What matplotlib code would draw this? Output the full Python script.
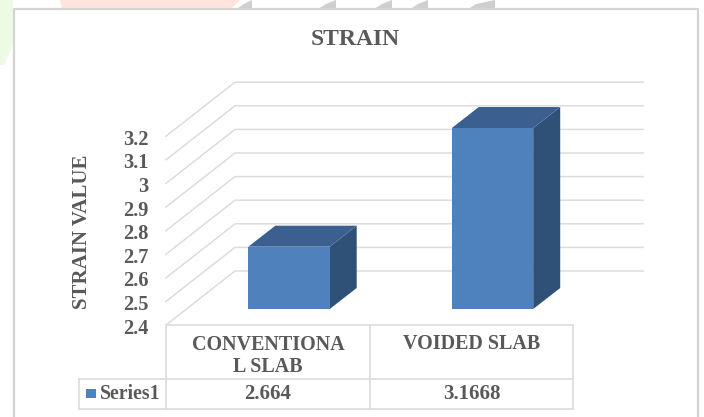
import matplotlib
matplotlib.use("Agg")
import matplotlib.pyplot as plt
from matplotlib.patches import Polygon, Rectangle

categories = ["CONVENTIONA\nL SLAB", "VOIDED SLAB"]
values = [2.664, 3.1668]
value_labels = ["2.664", "3.1668"]
series_name = "Series1"
yticks = [2.4, 2.5, 2.6, 2.7, 2.8, 2.9, 3.0, 3.1, 3.2]
ytick_labels = ["2.4", "2.5", "2.6", "2.7", "2.8", "2.9", "3", "3.1", "3.2"]
title = "STRAIN"
ylabel = "STRAIN VALUE"

W, H = 704, 417
GREY = "#595959"
GRID = "#DCDCDC"
plt.rcParams["font.family"] = ["Liberation Serif", "DejaVu Serif"]
plt.rcParams["font.weight"] = "bold"

fig = plt.figure(figsize=(W / 100, H / 100), dpi=100)
fig.patch.set_facecolor("white")

# pixel overlay for decoration, frame and table (y measured from the top)
px = fig.add_axes([0, 0, 1, 1], zorder=1)
px.set_xlim(0, W); px.set_ylim(H, 0); px.axis("off")

# data axes: the bars' front plane; 203.5 px per category, 236 px per unit
X0, XS, Y0, YS, BASE = 289.0, 203.5, 309.0, 236.0, 2.4
ax = fig.add_axes([0, 0, 1, 1], zorder=2)
ax.patch.set_alpha(0)
ax.set_xlim((0 - X0) / XS, (W - X0) / XS)
ax.set_ylim(BASE + (Y0 - H) / YS, BASE + Y0 / YS)
ax.axis("off")

def dx(p): return p / XS
def dy(p): return p / YS

# background remnants around the frame
px.add_patch(Polygon([(60, 0), (240, 0), (232, 8), (62, 8)], fc="#FFE3DC", ec="none"))
px.add_patch(Polygon([(0, 0), (13, 0), (13, 45), (4, 65), (0, 65)], fc="#EEFBE4", ec="none"))
for a, b in [(238, 252), (320, 336), (376, 392), (412, 428), (470, 495)]:
    px.add_patch(Polygon([(a, 8), (a + 6, 4), (b, 0), (b, 8)], fc="#CFCFCF", ec="none"))

# chart frame
px.plot([14, 14, 698, 698], [H, 9, 9, H], color="#D4D4D4", lw=1.6)

# grid: sloped side wall and back wall
for v in yticks:
    ax.plot([dx(166 - X0), dx(235 - X0), dx(643 - X0)],
            [v + dy(-16), v + dy(38), v + dy(38)], color=GRID, lw=1.1, zorder=1)

# bars
W_BAR, DX, DY = 0.4, dx(27), dy(21)
for i, v in enumerate(values):
    l, r = i - W_BAR / 2, i + W_BAR / 2
    ax.add_patch(Polygon([(r, BASE), (r + DX, BASE + DY), (r + DX, v + DY), (r, v)],
                         fc="#2F5178", ec="none", zorder=3))
    ax.add_patch(Polygon([(l, v), (l + DX, v + DY), (r + DX, v + DY), (r, v)],
                         fc="#3B6090", ec="none", zorder=3))
    ax.add_patch(Rectangle((l, BASE), W_BAR, v - BASE, fc="#4F81BD", ec="none", zorder=4))

# tick labels
for v, s in zip(yticks, ytick_labels):
    ax.text(dx(148.5 - X0), v + dy(-19.5), s, ha="right", va="center",
            fontsize=14.7, color=GREY)

# titles
px.text(355.5, 39.5, title, ha="center", va="center", fontsize=17, color=GREY)
px.text(82, 231.5, ylabel, rotation=90, ha="center", va="center", fontsize=15, color=GREY)

# data table
for xs, ys in [([166, 573], [325, 325]), ([79, 573], [379, 379]), ([79, 573], [409, 409]),
               ([79, 79], [379, 409]), ([166, 166], [325, 409]),
               ([370, 370], [325, 409]), ([573, 573], [325, 409])]:
    px.plot(xs, ys, color=GRID, lw=1.2)
for i, c in enumerate(categories):
    cx = 268 + i * 203.5
    px.text(cx, 356 if "\n" in c else 344, c, ha="center", va="center",
            fontsize=14.4, color=GREY, linespacing=1.15)
    px.text(cx, 394, value_labels[i], ha="center", va="center", fontsize=15, color=GREY)
px.add_patch(Rectangle((86, 388.5), 9.5, 9.5, fc="#4F81BD", ec="none"))
px.text(100, 394, series_name, ha="left", va="center", fontsize=14.2, color=GREY)

fig.savefig("out.png", dpi=100)
